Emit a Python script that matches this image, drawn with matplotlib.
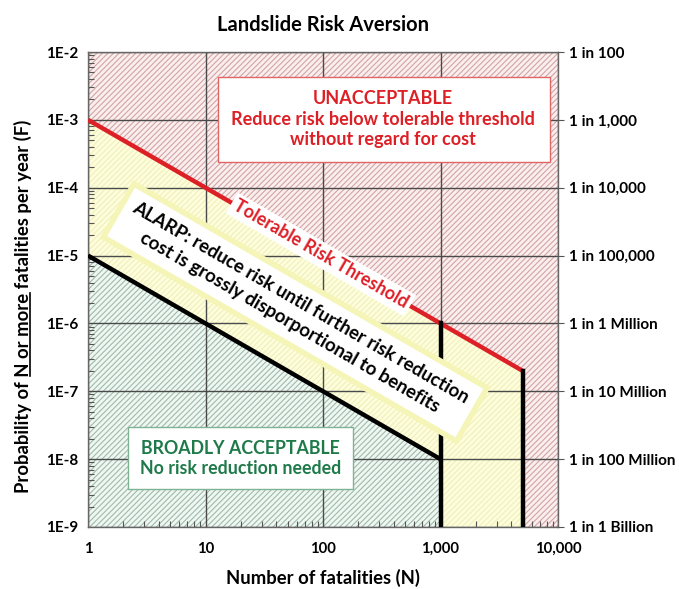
import numpy as np
import matplotlib
matplotlib.use("Agg")
import matplotlib.pyplot as plt
from matplotlib.patches import Rectangle
from matplotlib.lines import Line2D
from matplotlib.ticker import LogLocator, NullLocator, NullFormatter

# chart data
n_tolerable = [1, 5000]          # tolerable risk threshold (red)
f_tolerable = [1e-3, 2e-7]
n_acceptable = [1, 1000]         # broadly acceptable limit (black)
f_acceptable = [1e-5, 1e-8]
n_cap_low = 1000                 # vertical limits
n_cap_high = 5000
x_ticks = [1, 10, 100, 1000, 10000]
x_labels = ["1", "10", "100", "1,000", "10,000"]
y_ticks = [1e-2, 1e-3, 1e-4, 1e-5, 1e-6, 1e-7, 1e-8, 1e-9]
y_labels = ["1E-2", "1E-3", "1E-4", "1E-5", "1E-6", "1E-7", "1E-8", "1E-9"]
right_labels = ["1 in 100", "1 in 1,000", "1 in 10,000", "1 in 100,000",
                "1 in 1 Million", "1 in 10 Million", "1 in 100 Million", "1 in 1 Billion"]

plt.rcParams['font.family'] = ['Lato', 'DejaVu Sans']
plt.rcParams['font.weight'] = 'bold'
plt.rcParams['hatch.linewidth'] = 0.8

RED = '#dd1f26'
GREEN = '#1f7a4a'

fig = plt.figure(figsize=(6.79, 5.89), dpi=100)
ax = fig.add_axes([88/679, 1-527/589, 470/679, 475/589])
ax.set_xscale('log')
ax.set_yscale('log')
ax.set_xlim(1, 10000)
ax.set_ylim(1e-9, 1e-2)

# regions
ax.fill_between([1, 10000], 1e-9, 1e-2, facecolor='#fbeeee', edgecolor='#d2a4a4',
                hatch='//////', linewidth=0, zorder=0.5)
ax.fill_between(n_tolerable, 1e-9, f_tolerable, facecolor='#fefedc', edgecolor='#efefbc',
                hatch='//////', linewidth=0, zorder=0.6)
ax.fill_between(n_acceptable, 1e-9, f_acceptable, facecolor='#eef8f2', edgecolor='#a2b8ab',
                hatch='//////', linewidth=0, zorder=0.7)

ax.grid(True, which='major', color='#4a4a4a', linewidth=1.0)

# lines
ax.plot(n_tolerable, f_tolerable, color=RED, lw=3.2, solid_capstyle='butt', zorder=3)
ax.plot(n_acceptable, f_acceptable, color='black', lw=3.2, solid_capstyle='butt', zorder=3)
f_cap_low = f_tolerable[0] / n_cap_low
ax.plot([n_cap_low, n_cap_low], [1e-9, f_cap_low], color='black', lw=3.2, zorder=3)
ax.plot([n_cap_high, n_cap_high], [1e-9, f_tolerable[1]], color='black', lw=3.2, zorder=3)

# ticks
ax.set_xticks(x_ticks)
ax.set_xticklabels(x_labels, fontsize=10.7, fontweight='bold')
ax.set_yticks(y_ticks)
ax.set_yticklabels(y_labels, fontsize=11, fontweight='bold')
ax.tick_params(which='major', length=0, pad=7)
ax.tick_params(axis='x', which='major', pad=11)
ax.xaxis.set_minor_locator(LogLocator(base=10, subs=np.arange(2, 10)))
ax.yaxis.set_minor_locator(LogLocator(base=10, subs=np.arange(2, 10)))
ax.xaxis.set_minor_formatter(NullFormatter())
ax.yaxis.set_minor_formatter(NullFormatter())
ax.tick_params(which='minor', direction='in', length=4, color='#555555', width=0.8)
for s in ax.spines.values():
    s.set_color('#666666')
    s.set_linewidth(1.0)

ax2 = ax.twinx()
ax2.set_yscale('log')
ax2.set_ylim(1e-9, 1e-2)
ax2.set_yticks(y_ticks)
ax2.set_yticklabels(right_labels, fontsize=11, fontweight='bold')
ax2.yaxis.set_minor_locator(NullLocator())
ax2.tick_params(axis='y', length=4, pad=4, color='#555555')
for s in ax2.spines.values():
    s.set_visible(False)

# angle of the sloped lines on screen
p1 = ax.transData.transform((1, 1e-3))
p2 = ax.transData.transform((1000, 1e-6))
angle = np.degrees(np.arctan2(p2[1] - p1[1], p2[0] - p1[0]))

# text boxes
ax.add_patch(Rectangle((0.2766, 0.7674), 0.7064, 0.1796, transform=ax.transAxes,
                       facecolor='white', edgecolor='#e06666', lw=1.0, zorder=4))
ax.text(0.627, 0.858, "UNACCEPTABLE\nReduce risk below tolerable threshold\nwithout regard for cost",
        transform=ax.transAxes, ha='center', va='center', color=RED, fontsize=13,
        fontweight='bold', linespacing=1.25, zorder=5)

ax.add_patch(Rectangle((0.085, 0.080), 0.479, 0.131, transform=ax.transAxes,
                       facecolor='white', edgecolor='#7fb394', lw=1.0, zorder=4))
ax.text(0.324, 0.144, "BROADLY ACCEPTABLE\nNo risk reduction needed",
        transform=ax.transAxes, ha='center', va='center', color=GREEN, fontsize=12.8,
        fontweight='bold', linespacing=1.2, zorder=5)

ax.text(96, 1.04e-5, "Tolerable Risk Threshold", rotation=angle, rotation_mode='anchor',
        ha='center', va='center', color=RED, fontsize=13, fontweight='bold', zorder=5,
        bbox=dict(boxstyle='square,pad=0.2', facecolor='white', edgecolor='none'))

ax.text(58, 1.45e-6, "ALARP: reduce risk until further risk reduction\ncost is grossly disporportional to benefits",
        rotation=angle, rotation_mode='anchor', ha='center', va='center', color='black',
        fontsize=13.5, fontweight='bold', linespacing=1.35, zorder=5,
        bbox=dict(boxstyle='square,pad=0.6', facecolor='white', edgecolor='#f5f5b8', lw=4))

# titles
fig.text(323/679, 1-25/589, "Landslide Risk Aversion", ha='center', va='center',
         fontsize=14.5, fontweight='bold')
fig.text(323/679, 1-578/589, "Number of fatalities (N)", ha='center', va='center',
         fontsize=13.3, fontweight='bold')

LAB_SIZE = 13.3
ylab_str = "Probability of N or more fatalities per year (F)"
ylab = fig.text(23/679, 1-306/589, ylab_str, rotation=90, ha='center', va='center',
                fontsize=LAB_SIZE, fontweight='bold')

# underline "N or more"
fig.canvas.draw()
r = fig.canvas.get_renderer()


def text_len(s):
    t = fig.text(0, 0, s, fontsize=LAB_SIZE, fontweight='bold')
    w = t.get_window_extent(renderer=r).width
    t.remove()
    return w


ext = ylab.get_window_extent(renderer=r)
w_a = text_len("Probability of N or more")
w_b = text_len("N or more")
y_start = ext.y0 + w_a - w_b
y_end = ext.y0 + w_a
x_u = ext.x1 - 2.5
inv = fig.transFigure.inverted()
(xf, y0f) = inv.transform((x_u, y_start))
(_, y1f) = inv.transform((x_u, y_end))
fig.add_artist(Line2D([xf, xf], [y0f, y1f], transform=fig.transFigure, color='black', lw=1.2))

fig.savefig("out.png", dpi=100)
